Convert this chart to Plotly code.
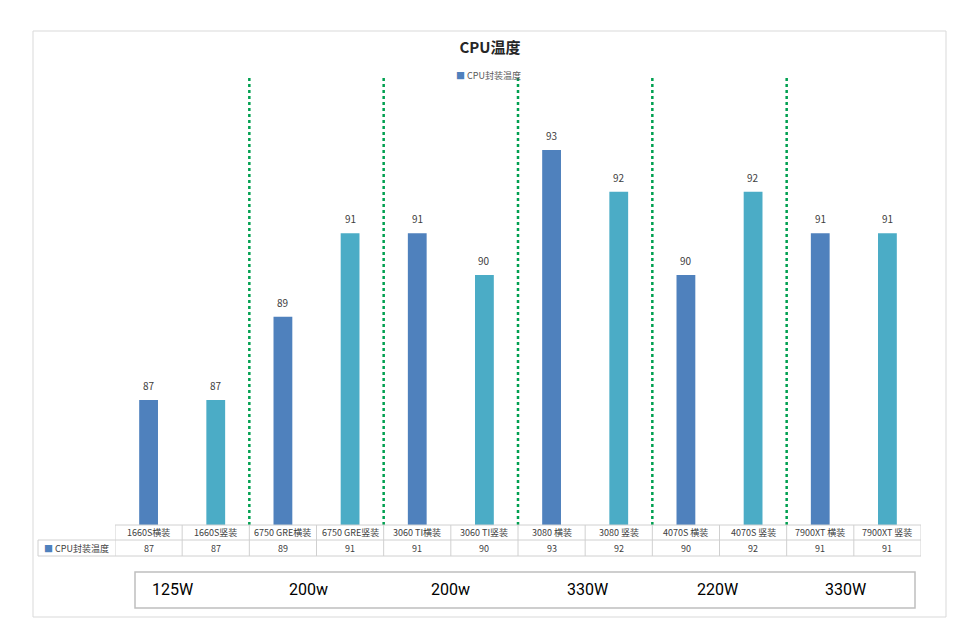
import plotly.graph_objects as go

categories = ["1660S横装", "1660S竖装", "6750 GRE横装", "6750 GRE竖装", "3060 TI横装", "3060 TI竖装",
              "3080 横装", "3080 竖装", "4070S 横装", "4070S 竖装", "7900XT 横装", "7900XT 竖装"]
cpu_temp = [87, 87, 89, 91, 91, 90, 93, 92, 90, 92, 91, 91]
series_name = "CPU封装温度"
power_labels = ["125W", "200w", "200w", "330W", "220W", "330W"]

W, H = 980, 633
L, R, T, B = 115, 59, 78, 108
ph = H - T - B
pw = W - L - R

def py(px):  # pixel y -> paper y
    return (H - B - px) / ph

def px_(x):  # pixel x -> paper x
    return (x - L) / pw

colors = ["#4F81BD" if i % 2 == 0 else "#4BACC6" for i in range(len(categories))]
xs = list(range(len(categories)))
font = "Noto Sans CJK SC, Open Sans, sans-serif"

fig = go.Figure()
fig.add_trace(go.Bar(
    x=xs, y=cpu_temp, name=series_name, width=0.28,
    marker=dict(color=colors, line=dict(width=0)),
    showlegend=False, hoverinfo="x+y",
))

shapes = []
# outer border
shapes.append(dict(type="rect", xref="paper", yref="paper", x0=px_(33), x1=px_(946), y0=py(617), y1=py(31),
                   line=dict(color="#D9D9D9", width=1), layer="below"))
# green dotted separators between groups
for g in range(1, len(categories) // 2):
    xb = 2 * g - 0.5
    shapes.append(dict(type="line", xref="x", yref="paper", x0=xb, x1=xb, y0=py(78), y1=py(525),
                       line=dict(color="#00A050", width=2.5, dash="dot")))
# data table lines
grid = "#D0D0D0"
n = len(categories)
shapes.append(dict(type="line", xref="x", yref="paper", x0=-0.5, x1=n - 0.5, y0=py(525), y1=py(525), line=dict(color=grid, width=1)))
shapes.append(dict(type="line", xref="paper", yref="paper", x0=px_(38), x1=1, y0=py(540), y1=py(540), line=dict(color=grid, width=1)))
shapes.append(dict(type="line", xref="paper", yref="paper", x0=px_(38), x1=1, y0=py(556), y1=py(556), line=dict(color=grid, width=1)))
shapes.append(dict(type="line", xref="paper", yref="paper", x0=px_(38), x1=px_(38), y0=py(540), y1=py(556), line=dict(color=grid, width=1)))
for i in range(n + 1):
    shapes.append(dict(type="line", xref="x", yref="paper", x0=i - 0.5, x1=i - 0.5, y0=py(525), y1=py(556),
                       line=dict(color=grid, width=1)))
# power box
shapes.append(dict(type="rect", xref="paper", yref="paper", x0=px_(135), x1=px_(915), y0=py(608), y1=py(572),
                   line=dict(color="#BFBFBF", width=1.5)))

annotations = []
# bar value labels
for i, v in enumerate(cpu_temp):
    annotations.append(dict(x=i, y=v, xref="x", yref="y", text=str(v), showarrow=False,
                            font=dict(size=10, color="#404040", family=font),
                            xanchor="center", yanchor="bottom", yshift=5))
for i, (c, v) in enumerate(zip(categories, cpu_temp)):
    annotations.append(dict(x=i, y=py(532.5), xref="x", yref="paper", text=c, showarrow=False,
                            font=dict(size=9, color="#404040", family=font), xanchor="center", yanchor="middle"))
    annotations.append(dict(x=i, y=py(548.5), xref="x", yref="paper", text=str(v), showarrow=False,
                            font=dict(size=9, color="#404040", family=font), xanchor="center", yanchor="middle"))
annotations.append(dict(x=px_(42), y=py(548.5), xref="paper", yref="paper",
                        text="<span style='color:#4F81BD'>■</span> " + series_name, showarrow=False,
                        font=dict(size=9, color="#404040", family=font), xanchor="left", yanchor="middle"))
# legend (as annotation)
annotations.append(dict(x=px_(454), y=py(76), xref="paper", yref="paper",
                        text="<span style='color:#4F81BD'>■</span> " + series_name, showarrow=False,
                        font=dict(size=9, color="#595959", family=font), xanchor="left", yanchor="middle"))
power_x = [172, 308, 450, 587, 717, 845]
for lab, xp in zip(power_labels, power_x):
    annotations.append(dict(x=px_(xp), y=py(589), xref="paper", yref="paper", text=lab, showarrow=False,
                            font=dict(size=16, color="#000000", family="Roboto, Open Sans, sans-serif"),
                            xanchor="center", yanchor="middle"))

fig.update_layout(
    width=W, height=H,
    margin=dict(l=L, r=R, t=T, b=B),
    paper_bgcolor="white", plot_bgcolor="white",
    title=dict(text="<b>CPU温度</b>", x=0.5, xanchor="center", y=1 - 48 / H, yanchor="middle",
               font=dict(size=15, color="#262626", family=font)),
    showlegend=False,
    xaxis=dict(range=[-0.5, n - 0.5], showticklabels=False, showgrid=False, zeroline=False, showline=False,
               ticks=""),
    yaxis=dict(range=[84, 84 + ph / 41.67], showticklabels=False, showgrid=False, zeroline=False,
               showline=False, ticks=""),
    shapes=shapes, annotations=annotations, bargap=0.7,
)

fig.write_html("out.html", config={"displayModeBar": False},
               post_script="document.body.style.margin='0';")
